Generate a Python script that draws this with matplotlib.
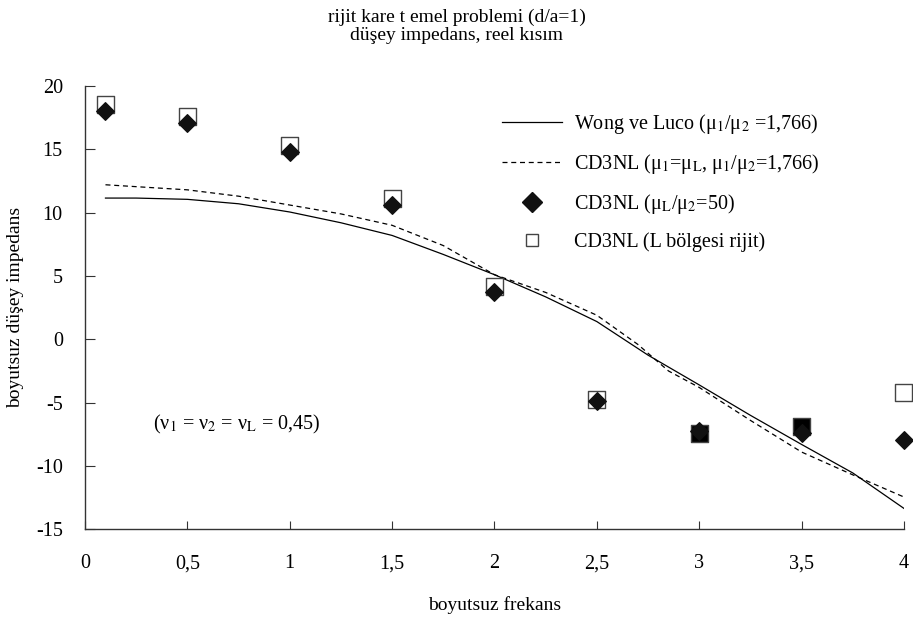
import matplotlib
matplotlib.use("Agg")
import matplotlib.pyplot as plt
from matplotlib.lines import Line2D

plt.rcParams['font.family'] = ['Liberation Serif', 'DejaVu Serif']
plt.rcParams['mathtext.fontset'] = 'stix'
plt.rcParams['axes.unicode_minus'] = False

# --- data ---
freq_pts = [0.1, 0.5, 1.0, 1.5, 2.0, 2.5, 3.0, 3.5, 4.0]
diamond_vals = [18.0, 17.1, 14.8, 10.6, 3.7, -4.85, -7.25, -7.4, -7.95]
square_vals = [18.5, 17.6, 15.3, 11.1, 4.2, -4.75, -7.4, -6.9, -4.2]
square_filled = [False, False, False, False, False, False, True, True, False]

wong_x = [0.1, 0.25, 0.5, 0.75, 1.0, 1.25, 1.5, 1.75, 2.0, 2.25, 2.5, 2.75,
          3.0, 3.25, 3.5, 3.75, 4.0]
wong_y = [11.15, 11.15, 11.05, 10.7, 10.05, 9.2, 8.2, 6.7, 5.1, 3.35, 1.4, -1.25,
          -3.6, -6.0, -8.3, -10.55, -13.35]

cd3_x = [0.1, 0.25, 0.5, 0.75, 1.0, 1.25, 1.5, 1.75, 2.0, 2.25, 2.5, 2.7, 2.85,
         3.0, 3.25, 3.5, 3.75, 4.0]
cd3_y = [12.2, 12.05, 11.8, 11.3, 10.6, 9.9, 9.0, 7.4, 5.1, 3.7, 1.9, -0.4, -2.5,
         -3.8, -6.4, -8.9, -10.7, -12.45]

xticks = [0, 0.5, 1.0, 1.5, 2.0, 2.5, 3.0, 3.5, 4.0]
xtick_labels = ['0', '0,5', '1', '1,5', '2', '2,5', '3', '3,5', '4']
yticks = [-15, -10, -5, 0, 5, 10, 15, 20]

fig = plt.figure(figsize=(9.13, 6.18), dpi=100)
ax = fig.add_axes([0.0931, 0.1435, 0.897, 0.7174])

ax.plot(wong_x, wong_y, color='black', lw=0.9, zorder=2)
ax.plot(cd3_x, cd3_y, color='black', lw=0.9, ls=(0, (4, 3)), zorder=2)

face = ['black' if f else 'white' for f in square_filled]
ax.scatter(freq_pts, square_vals, marker='s', s=150, facecolors=face,
           edgecolors='#444444', linewidths=1.0, zorder=3, clip_on=False)
ax.scatter(freq_pts, diamond_vals, marker='D', s=80, color='#111111',
           zorder=4, clip_on=False)

ax.set_xlim(0, 4)
ax.set_ylim(-15, 20)
ax.spines['top'].set_visible(False)
ax.spines['right'].set_visible(False)
for sp in ('left', 'bottom'):
    ax.spines[sp].set_color('#333333')
    ax.spines[sp].set_linewidth(1.0)

ax.set_xticks(xticks)
ax.set_xticklabels(xtick_labels)
ax.set_yticks(yticks)
ax.tick_params(axis='x', direction='in', length=6, pad=18, labelsize=14.5, color='#333333')
ax.tick_params(axis='y', direction='in', length=7, pad=16, labelsize=14.5, color='#333333')

ax.set_xlabel('boyutsuz frekans', fontsize=14)
ax.xaxis.set_label_coords(0.5, -0.15)
ax.set_ylabel('boyutsuz düşey impedans', fontsize=14)
ax.yaxis.set_label_coords(-0.074, 0.5)

fig.text(0.5, 0.986, 'rijit kare t emel problemi (d/a=1)\ndüşey impedans, reel kısım',
         ha='center', va='top', fontsize=14, linespacing=1.05)

ax.text(0.33, -6.7, r'(ν$_1$ = ν$_2$ = ν$_\mathrm{L}$ = 0,45)', fontsize=14.5, va='center')

handles = [
    Line2D([], [], color='black', lw=0.9),
    Line2D([], [], color='black', lw=0.9, ls=(0, (4, 3))),
    Line2D([], [], color='#111111', marker='D', ls='none', markersize=10),
    Line2D([], [], marker='s', ls='none', markersize=9, markerfacecolor='white',
           markeredgecolor='#444444'),
]
labels = [
    r'Wong ve Luco (μ$_1$/μ$_2$ =1,766)',
    r'CD3NL (μ$_1$=μ$_\mathrm{L}$, μ$_1$/μ$_2$=1,766)',
    r'CD3NL (μ$_\mathrm{L}$/μ$_2$=50)',
    'CD3NL (L bölgesi rijit)',
]
ax.legend(handles, labels, loc='upper left', bbox_to_anchor=(502 / 913, 1 - 112 / 618),
          bbox_transform=fig.transFigure, frameon=False, fontsize=14.5,
          handlelength=3.0, handletextpad=0.6, labelspacing=0.8, borderaxespad=0,
          borderpad=0)

fig.savefig('out.png', dpi=100)
